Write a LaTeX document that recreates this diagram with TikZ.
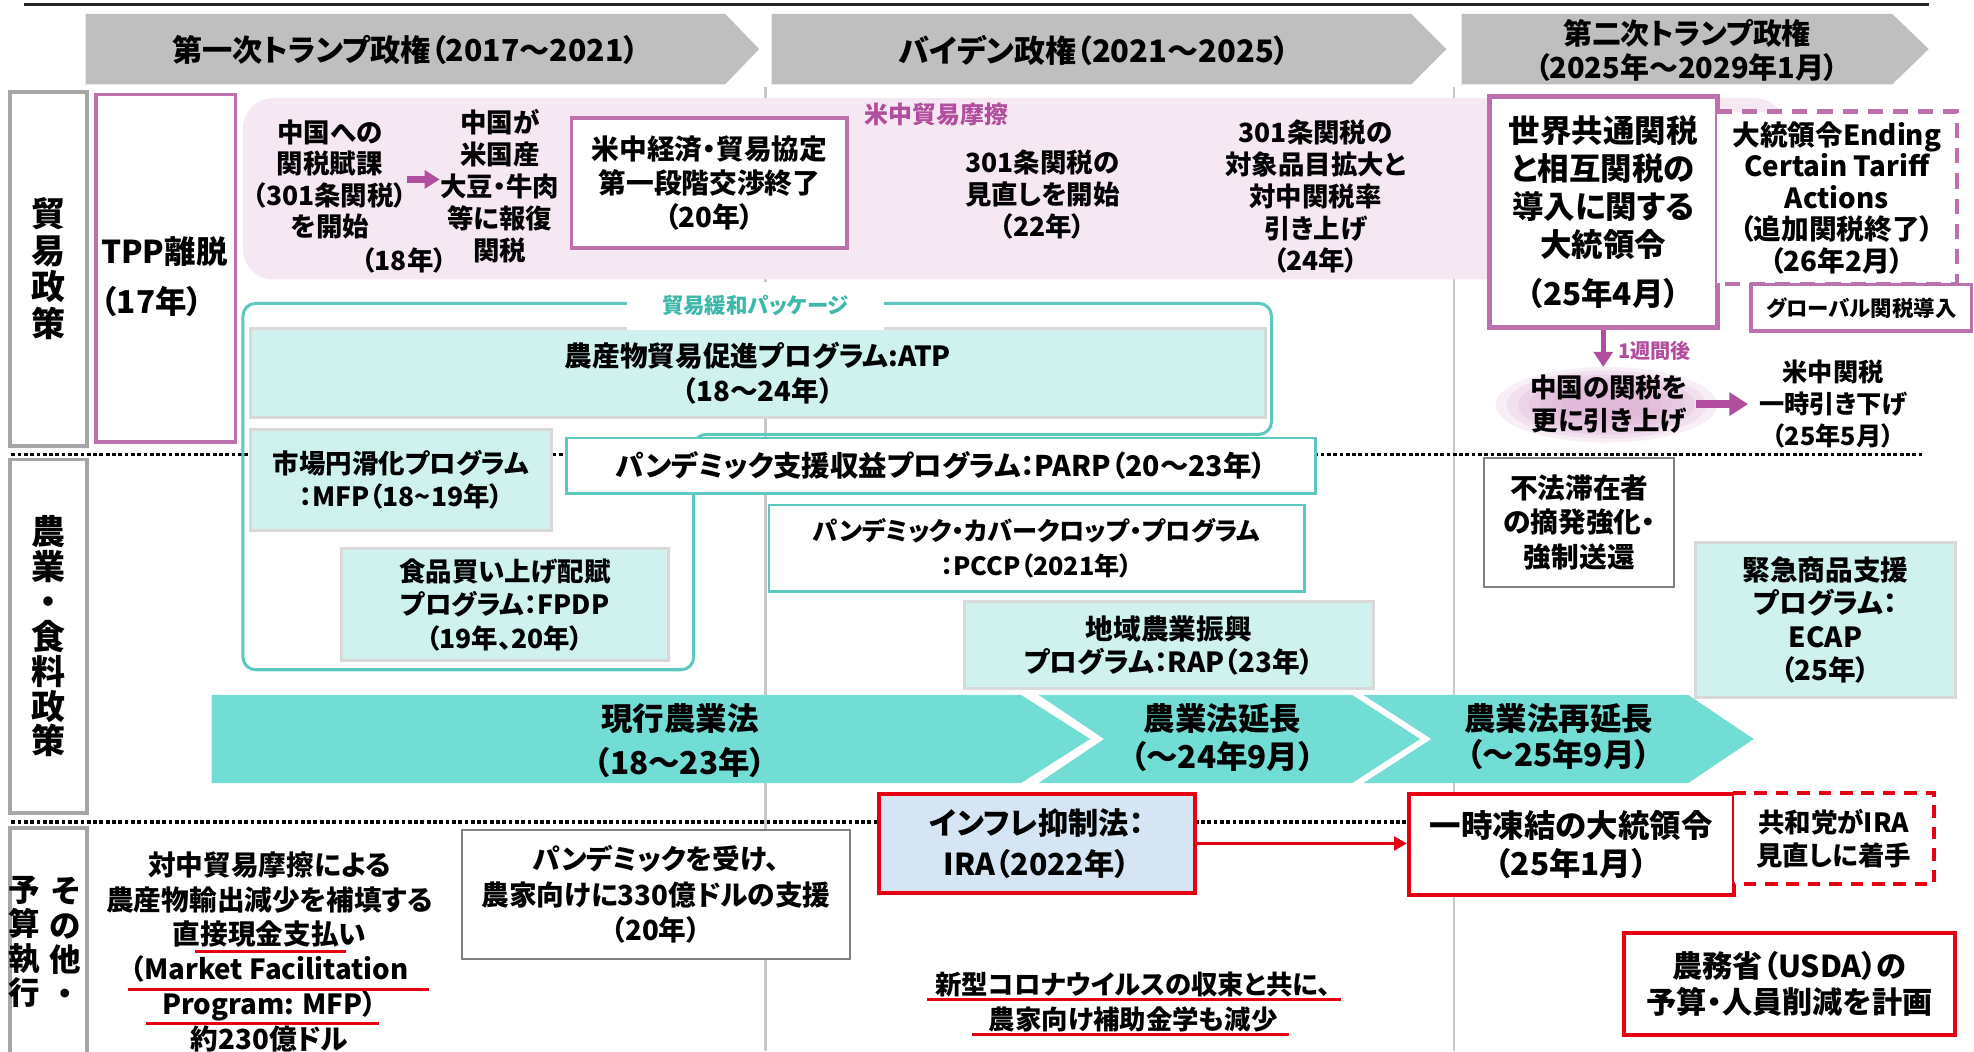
\documentclass[tikz,border=0pt]{standalone}
\usepackage{fontspec}
\setmainfont{Noto Sans CJK JP}[RawFeature={+palt}]
\usetikzlibrary{arrows.meta,shapes.geometric}
\definecolor{hdrgray}{HTML}{BFBFBF}
\definecolor{lblgray}{HTML}{A6A6A6}
\definecolor{pinkline}{HTML}{BC70AC}
\definecolor{pinkfill}{HTML}{F6E8F2}
\definecolor{purpletxt}{HTML}{B24E9E}
\definecolor{tealarrow}{HTML}{72DDD4}
\definecolor{tealfill}{HTML}{CFF2EF}
\definecolor{tealline}{HTML}{5CC9BE}
\definecolor{tealtxt}{HTML}{3DB8AA}
\definecolor{boxgray}{HTML}{D9D9D9}
\definecolor{thingray}{HTML}{808080}
\definecolor{iraf}{HTML}{D5E5F3}
\definecolor{redline}{HTML}{E60012}
\definecolor{eraline}{HTML}{C8C8C8}
\definecolor{glowpink}{HTML}{D9A8D0}
\begin{document}
\begin{tikzpicture}[x=0.5pt,y=-0.5pt,
  every node/.style={align=center, inner sep=0pt, font=\bfseries},
  tf/.style 2 args={font=\bfseries\fontsize{#1}{#2}\selectfont},
  bx/.style 2 args={minimum width=#1*0.5pt, minimum height=#2*0.5pt},
  lbl/.style={draw=lblgray, line width=1.5pt, fill=white},
  pinkbox/.style={draw=pinkline, line width=1.5pt, fill=white},
  tealbox/.style={draw=boxgray, line width=1.2pt, fill=tealfill},
  wtealbox/.style={draw=tealline, line width=1pt, fill=white},
  graybox/.style={draw=thingray, line width=0.8pt, fill=white},
  redbox/.style={draw=redline, line width=1.6pt, fill=white},
  dotsep/.style={line width=1.5pt, dash pattern=on 1.5pt off 1pt},
  eraln/.style={draw=eraline, line width=1pt},
  pinkdash/.style={draw=pinkline, line width=1.8pt, dash pattern=on 6pt off 4pt},
  reddash/.style={draw=redline, line width=1.5pt, dash pattern=on 5pt off 3.5pt},
  purarrow/.style={draw=purpletxt, line width=2.5pt, -{Triangle[length=6pt,width=7pt]}},
  downarrow/.style={draw=purpletxt, line width=2pt, -{Triangle[length=6pt,width=7.5pt]}},
  rarrow/.style={draw=purpletxt, line width=3pt, -{Triangle[length=7.5pt,width=9pt]}},
  redarrow/.style={draw=redline, line width=1pt, -{Triangle[length=5pt,width=5.5pt]}}
]
\useasboundingbox (0,0) rectangle (1568,835);
% era separators and row separators
\draw[eraln] (608,69) -- (608,835);
\draw[eraln] (1155,69) -- (1155,835);
\draw[dotsep] (9,361) -- (1527,361);
\draw[dotsep] (9,653) -- (1527,653);
\draw[line width=1.3pt, black!85] (19,3.5) -- (1532,3.5);
% headers
\fill[hdrgray] (68,11) -- (576,11) -- (603,39) -- (576,67) -- (68,67) -- cycle;
\fill[hdrgray] (613,11) -- (1121,11) -- (1149,39) -- (1121,67) -- (613,67) -- cycle;
\fill[hdrgray] (1161,11) -- (1503,11) -- (1532,39) -- (1503,67) -- (1161,67) -- cycle;
\node[tf={12}{13.5}] (h1) at (322,40) {第一次トランプ政権（2017～2021）};
\node[tf={12.3}{13.5}] (h2) at (869,40) {バイデン政権（2021～2025）};
\node[tf={11.5}{13.5}] (h3) at (1340,40) {第二次トランプ政権\\（2025年～2029年1月）};
% row labels
\node[lbl, bx={61}{281}, tf={13.5}{14.5}] (lab1) at (38.5,213.5) {貿\\易\\政\\策};
\node[lbl, bx={61}{281}, tf={13.5}{13.85}] (lab2) at (38.5,505.5) {農\\業\\・\\食\\料\\政\\策};
\node[lbl, bx={61}{190}] (lab3) at (38.5,753) {};
\node[tf={12.5}{13.6}] (lab3a) at (52,748) {そ\\の\\他\\・};
\node[tf={12.5}{13.6}] (lab3b) at (19,748) {予\\算\\執\\行};
% TPP
\node[pinkbox, bx={111}{276}] (tpp) at (131.5,213) {};
\node[tf={12.5}{20}, align=left, anchor=west] (tppt) at (80,220) {TPP離脱\\（17年）};
% trade friction band
\fill[pinkfill, rounded corners=12pt] (193,78) rectangle (1418,222);
\node[tf={9.5}{11}, text=purpletxt] (frictl) at (744,91) {米中貿易摩擦};
\node[tf={10.5}{12.5}] (t1) at (262,142.5) {中国への\\関税賦課\\（301条関税）\\を開始};
\node[tf={10.5}{12.5}] (t1y) at (321,207) {（18年）};
\node[tf={10.5}{12.75}] (t2) at (397,148) {中国が\\米国産\\大豆・牛肉\\等に報復\\関税};
\draw[purarrow] (t1.east) -- (t1.east -| t2.west);
\node[pinkbox, bx={219}{103}, tf={11}{13.5}] (agree) at (563.5,145.5) {米中経済・貿易協定\\第一段階交渉終了\\（20年）};
\node[tf={10.5}{12.75}] (t3) at (828,154.5) {301条関税の\\見直しを開始\\（22年）};
\node[tf={10.5}{12.75}] (t4) at (1045,156) {301条関税の\\対象品目拡大と\\対中関税率\\引き上げ\\（24年）};
\node[pinkbox, line width=2pt, bx={181}{183}, tf={12.5}{15}] (sekai) at (1273.5,168.5) {世界共通関税\\と相互関税の\\導入に関する\\大統領令\\[4.5pt]（25年4月）};
\node[fill=white, bx={190}{136}, tf={11}{12.5}] (ending) at (1459,157) {大統領令Ending\\Certain Tariff\\Actions\\（追加関税終了）\\（26年2月）};
\draw[pinkdash] (ending.north west) -- (ending.north east) -- (ending.south east) -- (ending.south west);
\node[pinkbox, bx={175}{37}, tf={8.5}{10}] (glob) at (1478.5,244.5) {グローバル関税導入};
\foreach \k in {1,0.9,0.8,0.7,0.6,0.5,0.4}
  \fill[glowpink, opacity=0.2] (1276,321.5) ellipse [x radius=88*\k, y radius=30*\k];
\node[tf={10.5}{13}, minimum width=65pt] (glowt) at (1278,321) {中国の関税を\\更に引き上げ};
\draw[downarrow, shorten >=3pt] (sekai.south) -- (sekai.south |- glowt.north);
\node[tf={8}{9}, text=purpletxt, anchor=west] (week) at (1285,279) {1週間後};
\node[tf={10}{12.75}, minimum width=61pt] (beichu) at (1456,321) {米中関税\\一時引き下げ\\（25年5月）};
\draw[rarrow, shorten <=2pt, shorten >=3pt] (glowt.east) -- (beichu.west);
% trade easing package
\draw[tealline, line width=1.2pt, rounded corners=5pt] (193,241) -- (1010,241) -- (1010,345) -- (551,345) -- (551,532) -- (193,532) -- cycle;
\node[tealbox, bx={806}{71}, tf={11}{14}] (atp) at (602,296.5) {農産物貿易促進プログラム:ATP\\（18～24年）};
\node[fill=white, bx={204}{38}, tf={8.5}{10}, text=tealtxt] (easel) at (600,243) {貿易緩和パッケージ};
% agriculture programmes
\node[tealbox, bx={239}{80}, tf={10.5}{13}] (mfp) at (318.5,381) {市場円滑化プログラム\\：MFP（18{\char"7E}19年）};
\node[wtealbox, bx={595}{44}, tf={11.3}{12}] (parp) at (747.5,370) {パンデミック支援収益プログラム：PARP（20～23年）};
\node[tealbox, bx={260}{89}, tf={10.5}{13.25}] (fpdp) at (401,480.5) {食品買い上げ配賦\\プログラム：FPDP\\（19年、20年）};
\node[wtealbox, bx={425}{69}, tf={10}{14}] (pccp) at (823.5,435.5) {パンデミック・カバークロップ・プログラム\\：PCCP（2021年）};
\node[tealbox, bx={325}{69}, tf={11}{13}] (rap) at (928.5,512.5) {地域農業振興\\プログラム：RAP（23年）};
\node[graybox, bx={151}{102}, tf={11}{13.75}] (ille) at (1254.5,415) {不法滞在者\\の摘発強化・\\強制送還};
\node[tealbox, bx={206}{123}, tf={11}{13.25}] (ecap) at (1450,492.5) {緊急商品支援\\プログラム：\\ECAP\\（25年）};
% farm bill chevrons
\fill[tealarrow] (168,552) -- (811,552) -- (866,587) -- (811,622) -- (168,622) -- cycle;
\fill[tealarrow] (825,552) -- (1074,552) -- (1128,587) -- (1074,622) -- (825,622) -- (877,587) -- cycle;
\fill[tealarrow] (1083,552) -- (1341,552) -- (1393,587) -- (1341,622) -- (1083,622) -- (1137,587) -- cycle;
\node[tf={12.5}{17.5}] (farm1) at (540,588.5) {現行農業法\\（18～23年）};
\node[tf={12.5}{15}] (farm2) at (971,586) {農業法延長\\（～24年9月）};
\node[tf={12.5}{14.5}] (farm3) at (1238,585) {農業法再延長\\（～25年9月）};
% budget row
\node[tf={11}{13.8}] (mfpcash) at (214,756) {対中貿易摩擦による\\農産物輸出減少を補填する\\直接現金支払い\\（Market Facilitation\\Program: MFP）\\約230億ドル};
\draw[redline, line width=1.3pt] (155,756) -- (275,756);
\draw[redline, line width=1.3pt] (102,786) -- (341,786);
\draw[redline, line width=1.3pt] (116,813) -- (301,813);
\node[graybox, bx={308}{103}, tf={11}{14}] (pan20) at (521,710.5) {パンデミックを受け、\\農家向けに330億ドルの支援\\（20年）};
\node[redbox, fill=iraf, bx={251}{78}, tf={12}{16}] (ira) at (823.5,670) {インフレ抑制法：\\IRA（2022年）};
\node[redbox, bx={258}{80}, tf={12.5}{15}] (freeze) at (1248,671) {一時凍結の大統領令\\（25年1月）};
\draw[redarrow] (ira.east) -- (ira.east -| freeze.west);
\node[fill=white, bx={159}{72}, tf={10.5}{13}] (kyowa) at (1456.5,666) {共和党がIRA\\見直しに着手};
\draw[reddash] (kyowa.north west) -- (kyowa.north east) -- (kyowa.south east) -- (kyowa.south west);
\node[tf={10.5}{14}] (corona) at (900,796) {新型コロナウイルスの収束と共に、\\農家向け補助金学も減少};
\draw[redline, line width=1.3pt] (736,794) -- (1065,794);
\draw[redline, line width=1.3pt] (772,822) -- (1024,822);
\node[redbox, bx={263}{81}, tf={12}{14}] (usda) at (1421.5,781.5) {農務省（USDA）の\\予算・人員削減を計画};
\end{tikzpicture}
\end{document}
